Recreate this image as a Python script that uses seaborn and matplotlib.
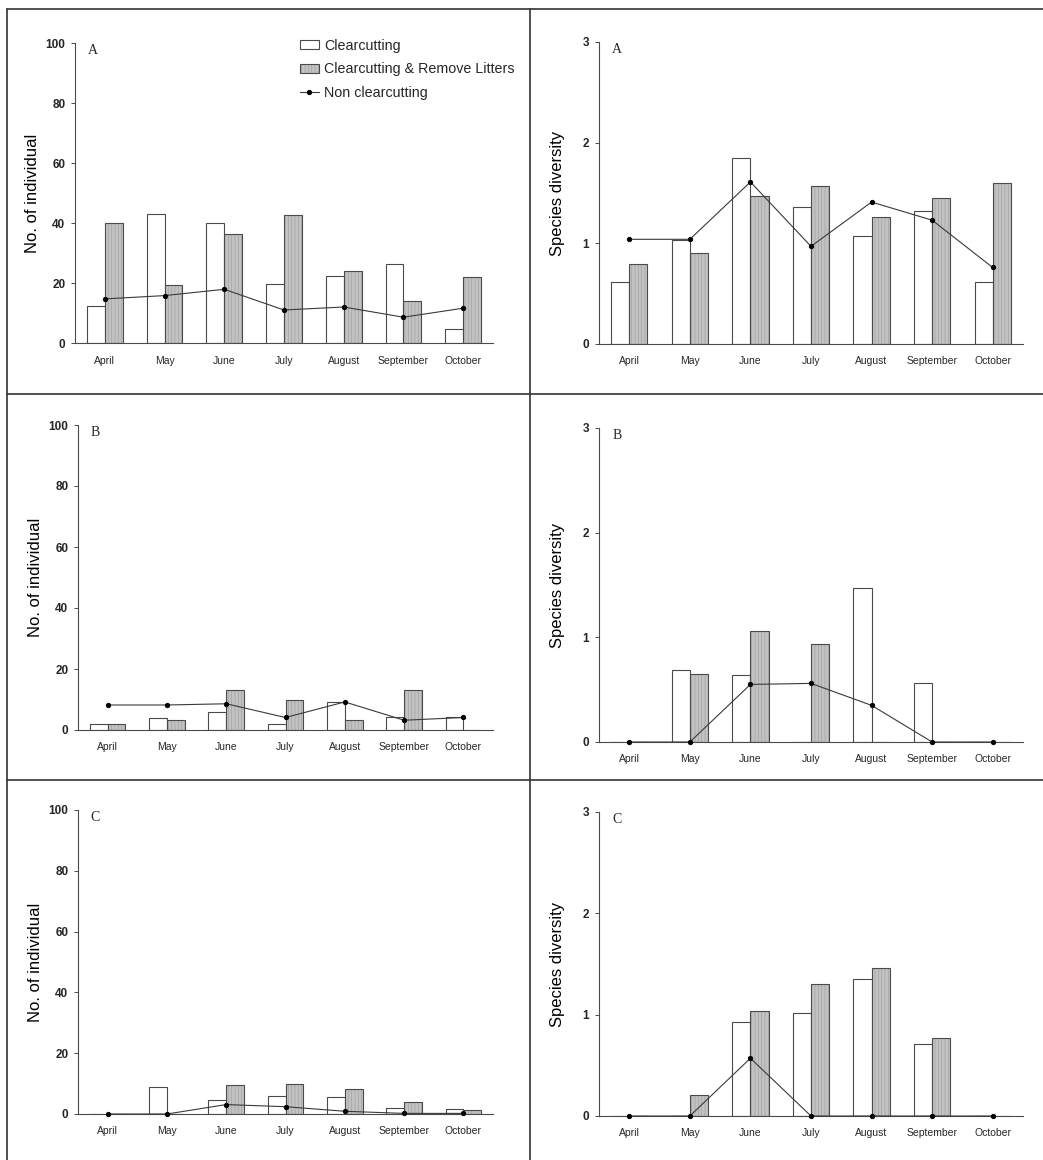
import pandas as pd
import matplotlib.pyplot as plt
import matplotlib.colors as mcolors
from matplotlib.lines import Line2D
import seaborn as sns

# Data
months = ['April', 'May', 'June', 'July', 'August', 'September', 'October']
treatments = ['Clearcutting', 'Clearcutting & Remove Litters', 'Non clearcutting']

# No. of individual
ind_A_clear = [12.4, 43.0, 40.0, 19.7, 22.3, 26.3, 4.7]
ind_A_litter = [40.0, 19.3, 36.2, 42.6, 24.0, 14.0, 21.9]
ind_A_non = [14.7, 15.8, 17.9, 11.0, 12.0, 8.6, 11.6]

ind_B_clear = [2.0, 3.9, 5.9, 2.0, 9.1, 4.1, 4.1]
ind_B_litter = [2.0, 3.2, 13.1, 9.9, 3.2, 13.1, 0.0]
ind_B_non = [8.2, 8.2, 8.6, 4.1, 9.2, 3.2, 4.1]

ind_C_clear = [0.0, 8.9, 4.6, 5.9, 5.6, 2.0, 1.6]
ind_C_litter = [0.0, 0.0, 9.6, 9.9, 8.3, 4.1, 1.4]
ind_C_non = [0.0, 0.0, 3.1, 2.4, 0.9, 0.2, 0.2]

# Species diversity
div_A_clear = [0.62, 1.03, 1.85, 1.36, 1.07, 1.32, 0.62]
div_A_litter = [0.79, 0.90, 1.47, 1.57, 1.26, 1.45, 1.60]
div_A_non = [1.04, 1.04, 1.61, 0.97, 1.41, 1.23, 0.76]

div_B_clear = [0.0, 0.69, 0.64, 0.0, 1.47, 0.56, 0.0]
div_B_litter = [0.0, 0.65, 1.06, 0.94, 0.0, 0.0, 0.0]
div_B_non = [0.0, 0.0, 0.55, 0.56, 0.35, 0.0, 0.0]

div_C_clear = [0.0, 0.0, 0.93, 1.02, 1.35, 0.71, 0.0]
div_C_litter = [0.0, 0.21, 1.04, 1.30, 1.46, 0.77, 0.0]
div_C_non = [0.0, 0.0, 0.57, 0.0, 0.0, 0.0, 0.0]

panels = [
    # letter, clear, litter, non, ylabel, ymax, yticks, column, row
    ('A', ind_A_clear, ind_A_litter, ind_A_non, 'No. of individual', 100, [0, 20, 40, 60, 80, 100], 0, 0),
    ('A', div_A_clear, div_A_litter, div_A_non, 'Species diversity', 3, [0, 1, 2, 3], 1, 0),
    ('B', ind_B_clear, ind_B_litter, ind_B_non, 'No. of individual', 100, [0, 20, 40, 60, 80, 100], 0, 1),
    ('B', div_B_clear, div_B_litter, div_B_non, 'Species diversity', 3, [0, 1, 2, 3], 1, 1),
    ('C', ind_C_clear, ind_C_litter, ind_C_non, 'No. of individual', 100, [0, 20, 40, 60, 80, 100], 0, 2),
    ('C', div_C_clear, div_C_litter, div_C_non, 'Species diversity', 3, [0, 1, 2, 3], 1, 2),
]

# Layout in pixels (left, right, top, bottom) for each panel
W, H = 1043, 1160
AX_BOXES = {
    (0, 0): (75, 493, 43, 343), (1, 0): (599, 1023, 42, 344),
    (0, 1): (78, 493, 425, 730), (1, 1): (599, 1023, 428, 742),
    (0, 2): (78, 493, 810, 1114), (1, 2): (599, 1023, 812, 1116),
}

WHITE = '#ffffff'
GRAY = '#c2c2c2'
HATCH_COLOR = '#a3a3a3'
EDGE = '#4a4a4a'

sns.set_theme(style='white')
plt.rcParams['font.family'] = ['Liberation Sans', 'DejaVu Sans']
plt.rcParams['hatch.linewidth'] = 0.5

fig = plt.figure(figsize=(W / 100, H / 100), dpi=100)
fig.patch.set_facecolor('white')

for letter, clear, litter, non, ylabel, ymax, yticks, col, row in panels:
    x0, x1, yt, yb = AX_BOXES[(col, row)]
    ax = fig.add_axes([x0 / W, 1 - yb / H, (x1 - x0) / W, (yb - yt) / H])

    bars = pd.DataFrame({
        'Month': months * 2,
        'Value': clear + litter,
        'Treatment': [treatments[0]] * 7 + [treatments[1]] * 7,
    })
    sns.barplot(data=bars, x='Month', y='Value', hue='Treatment', order=months,
                hue_order=treatments[:2], palette=[WHITE, GRAY], width=0.6, gap=0,
                saturation=1, errorbar=None, edgecolor=EDGE, linewidth=0.8,
                legend=False, ax=ax)
    # Vertical fine stripes on the litter-removal bars
    for p in ax.containers[1]:
        p.set_hatch('|||||')
        p._hatch_color = mcolors.to_rgba(HATCH_COLOR)

    line = pd.DataFrame({'Month': months, 'Value': non})
    sns.pointplot(data=line, x='Month', y='Value', order=months, color='black',
                  markersize=3.2, linewidth=0.8, errorbar=None, ax=ax)
    ln = ax.lines[-1]
    ln.set_color('#3a3a3a')
    ln.set_markerfacecolor('black')
    ln.set_markeredgecolor('black')
    ln.set_clip_on(False)
    ln.set_zorder(5)

    ax.set_xlim(-0.5, len(months) - 0.5)
    ax.set_ylim(0, ymax)
    ax.set_yticks(yticks)
    ax.set_yticklabels([str(t) for t in yticks], fontweight='bold', fontsize=8.5)
    ax.set_xticks(range(len(months)))
    ax.set_xticklabels(months, fontsize=7.5)
    ax.set_xticks([i - 0.5 for i in range(len(months) + 1)], minor=True)
    ax.tick_params(axis='x', which='major', length=0, pad=9)
    ax.tick_params(axis='x', which='minor', direction='in', length=3, width=0.7, color=EDGE)
    ax.tick_params(axis='y', which='major', direction='out', length=3, width=0.7,
                   color=EDGE, left=True, pad=4)
    ax.set_xlabel('')
    ax.set_ylabel(ylabel, fontsize=12, color='black')
    ax.yaxis.set_label_coords((40 - 75) / 418 if col == 0 else (565 - 599) / 424, 0.5)

    sns.despine(ax=ax)
    for side in ['left', 'bottom']:
        ax.spines[side].set_color(EDGE)
        ax.spines[side].set_linewidth(0.8)

    ax.text(0.031, 0.975, letter, transform=ax.transAxes, ha='left', va='center',
            fontsize=10, family=['Liberation Serif', 'DejaVu Serif'])

    if col == 0 and row == 0:
        handles = [ax.containers[0][0], ax.containers[1][0], ln]
        ax.legend(handles, treatments, loc='upper left',
                  bbox_to_anchor=(0.525, 1.033), frameon=False, fontsize=10.3,
                  handlelength=1.3, handleheight=0.6, handletextpad=0.35,
                  labelspacing=0.66, borderaxespad=0)

# Panel frame lines
frame = dict(color='#333333', linewidth=1.2, transform=fig.transFigure)
fig.add_artist(Line2D([7 / W, 1], [1 - 9 / H, 1 - 9 / H], **frame))
fig.add_artist(Line2D([7 / W, 7 / W], [0, 1 - 9 / H], **frame))
fig.add_artist(Line2D([529.5 / W, 529.5 / W], [0, 1 - 9 / H], **frame))
fig.add_artist(Line2D([7 / W, 1], [1 - 394 / H, 1 - 394 / H], **frame))
fig.add_artist(Line2D([7 / W, 1], [1 - 780 / H, 1 - 780 / H], **frame))

fig.savefig('out.png', dpi=100)
